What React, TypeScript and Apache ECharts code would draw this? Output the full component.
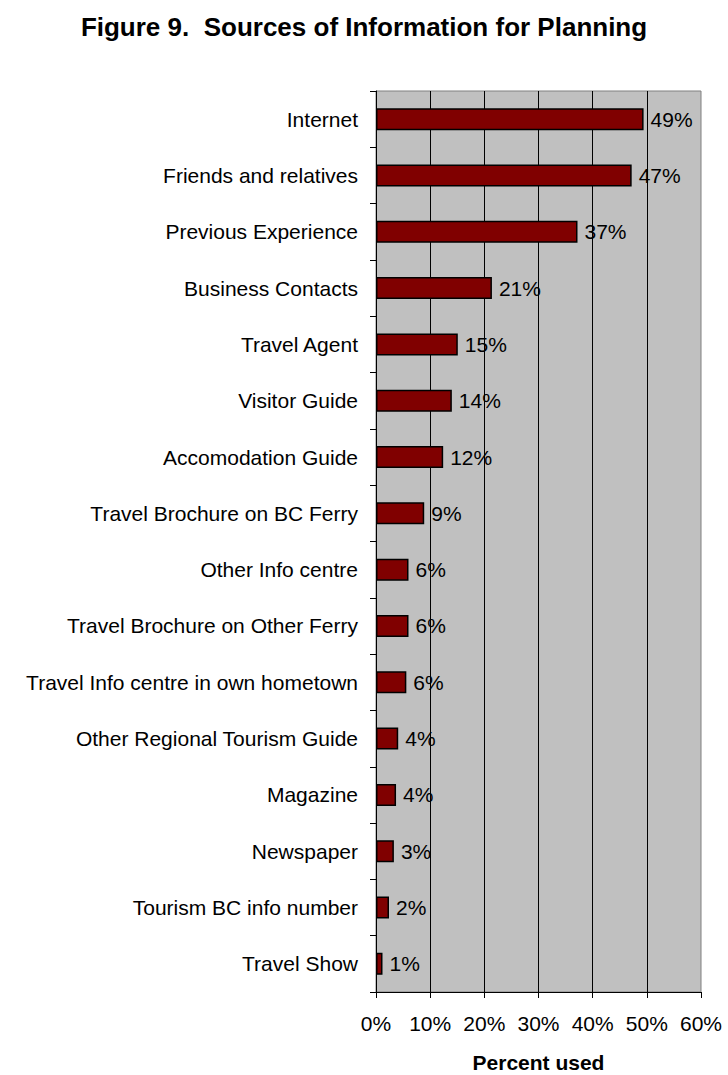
import React, { useEffect, useRef } from "react";
import * as echarts from "echarts";

const categories: string[] = [
  "Internet",
  "Friends and relatives",
  "Previous Experience",
  "Business Contacts",
  "Travel Agent",
  "Visitor Guide",
  "Accomodation Guide",
  "Travel Brochure on BC Ferry",
  "Other Info centre",
  "Travel Brochure on Other Ferry",
  "Travel Info centre in own hometown",
  "Other Regional Tourism Guide",
  "Magazine",
  "Newspaper",
  "Tourism BC info number",
  "Travel Show",
];

const percentUsed: number[] = [49.4, 47.2, 37.2, 21.4, 15.1, 14.0, 12.4, 8.9, 6.0, 6.0, 5.6, 4.1, 3.7, 3.3, 2.4, 1.2];

const xTicks: number[] = [0, 10, 20, 30, 40, 50, 60];

const FONT = "'Liberation Sans', Arial, Helvetica, sans-serif";

export default function App() {
  const ref = useRef<HTMLDivElement>(null);

  useEffect(() => {
    document.body.style.margin = "0";
    if (!ref.current) return;
    const chart = echarts.init(ref.current, undefined, { renderer: "svg" });
    chart.setOption({
      animation: false,
      backgroundColor: "#ffffff",
      title: {
        text: "Figure 9.  Sources of Information for Planning",
        left: "center",
        top: 9,
        textStyle: { fontFamily: FONT, fontSize: 26, fontWeight: "bold", color: "#000" },
      },
      grid: {
        left: 376,
        right: 27,
        top: 91,
        bottom: 83,
        containLabel: false,
        outerBoundsMode: "none",
        show: true,
        backgroundColor: "#c0c0c0",
        borderColor: "#808080",
        borderWidth: 1,
      },
      xAxis: {
        type: "value",
        min: xTicks[0],
        max: xTicks[xTicks.length - 1],
        interval: 10,
        name: "Percent used",
        nameLocation: "middle",
        nameGap: 60,
        nameTextStyle: {
          fontFamily: FONT,
          fontSize: 21,
          lineHeight: 21,
          fontWeight: "bold",
          color: "#000",
        },
        axisLine: { show: true, lineStyle: { color: "#000", width: 1 } },
        axisTick: { show: true, length: 6, lineStyle: { color: "#000" } },
        axisLabel: {
          formatter: "{value}%",
          fontFamily: FONT,
          fontSize: 21,
          color: "#000",
          margin: 21,
        },
        splitLine: { show: true, showMaxLine: false, lineStyle: { color: "#000", width: 1 } },
      },
      yAxis: {
        type: "category",
        data: categories,
        inverse: true,
        axisLine: { show: true, lineStyle: { color: "#000", width: 1 } },
        axisTick: { show: true, length: 6, lineStyle: { color: "#000" } },
        axisLabel: { fontFamily: FONT, fontSize: 21, color: "#000", margin: 18 },
        splitLine: { show: false },
      },
      series: [
        {
          type: "bar",
          data: percentUsed,
          barWidth: 22,
          itemStyle: { color: "#800000", borderColor: "#000", borderWidth: 1.5 },
          label: {
            show: true,
            position: "right",
            distance: 7,
            formatter: (p: any) => `${Math.round(p.value)}%`,
            fontFamily: FONT,
            fontSize: 21,
            color: "#000",
          },
        },
      ],
    });
    return () => chart.dispose();
  }, []);

  return <div ref={ref} style={{ width: 728, height: 1075 }} />;
}
